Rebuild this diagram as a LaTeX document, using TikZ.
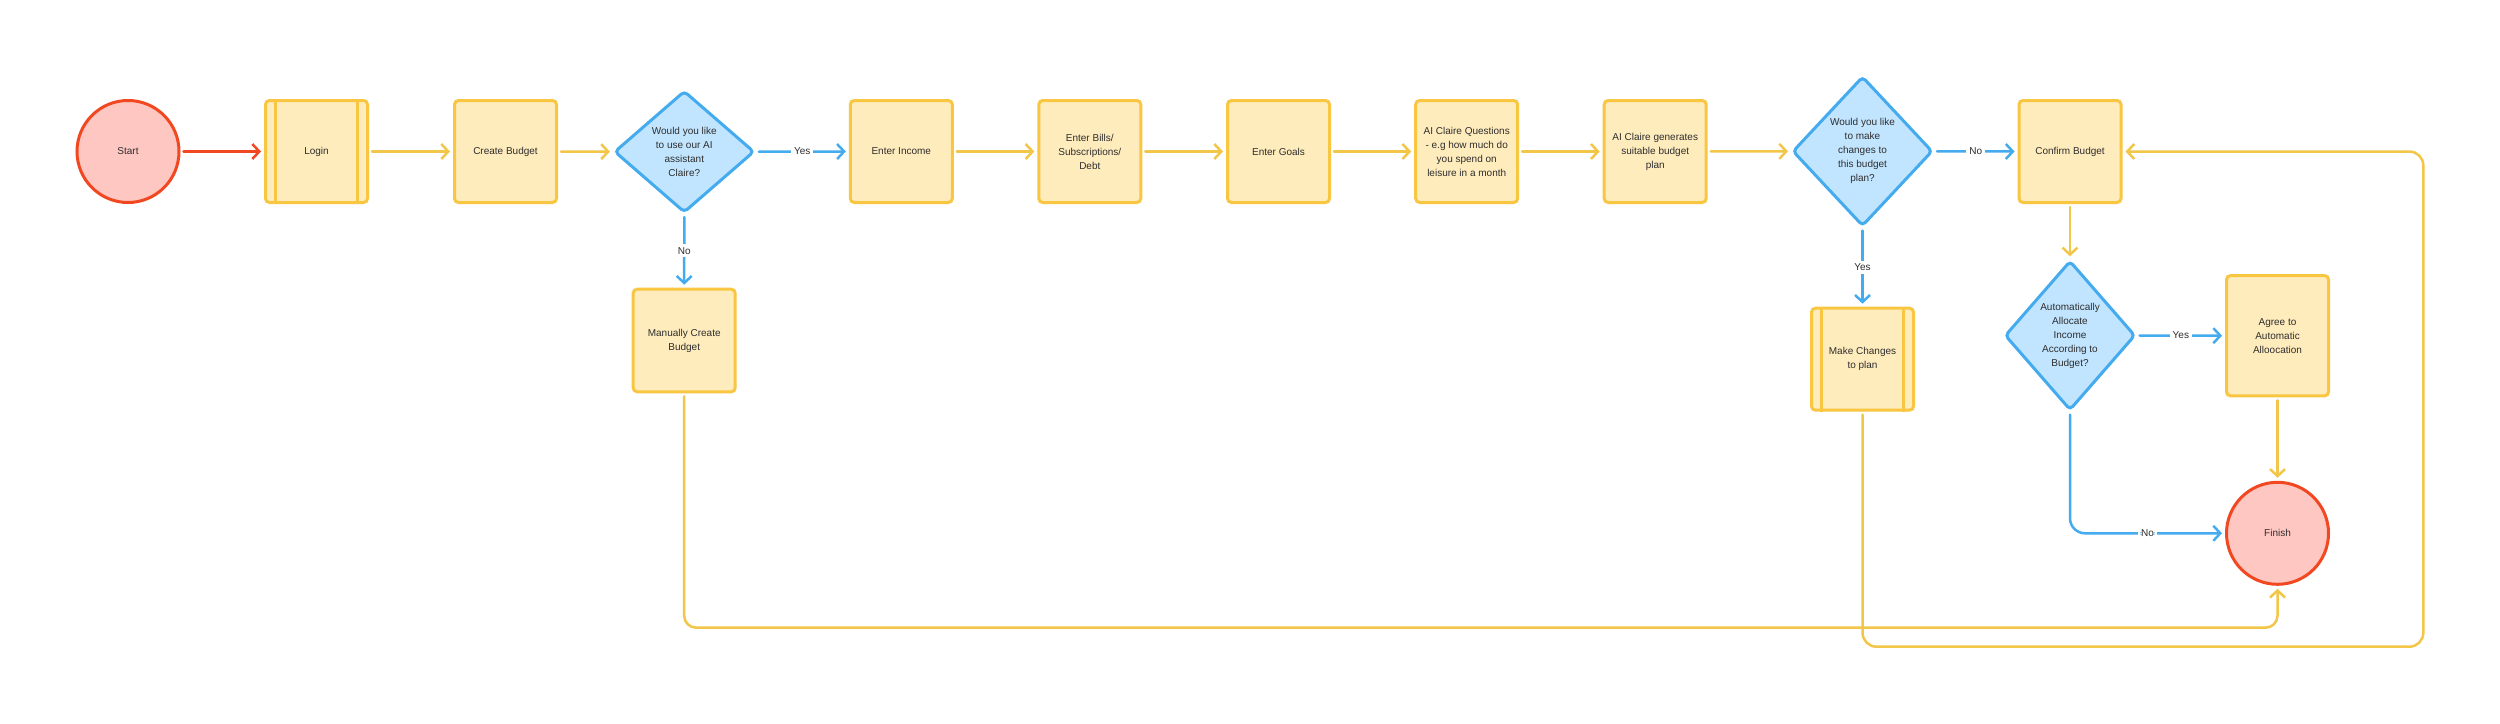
\documentclass[tikz,border=0pt]{standalone}
\usepackage{fontspec}
\setmainfont{Liberation Sans}
\usetikzlibrary{shapes.geometric, arrows.meta, calc}
\definecolor{ybox}{HTML}{FFECBD}
\definecolor{yline}{HTML}{F9C642}
\definecolor{yconncol}{HTML}{F2C648}
\definecolor{bfill}{HTML}{C2E5FF}
\definecolor{bline}{HTML}{45ABEF}
\definecolor{rfill}{HTML}{FFC7C2}
\definecolor{rline}{HTML}{F24822}
\definecolor{txt}{HTML}{2E2E2E}
\tikzset{
  every node/.style={font=\fontsize{10}{14}\selectfont, text=txt, align=center},
  procbox/.style={draw=yline, fill=ybox, line width=3pt, rounded corners=4pt,
    minimum width=102pt, minimum height=102pt, inner sep=0pt},
  decision/.style={shape=diamond, draw=bline, fill=bfill, line width=3pt,
    rounded corners=4pt, inner sep=0pt},
  terminal/.style={shape=circle, draw=rline, fill=rfill, line width=3pt,
    minimum size=102pt, inner sep=0pt},
  conn/.style={line width=2.5pt, line cap=round, line join=round,
    -{Straight Barb[length=7pt,width=15pt]}, shorten <=3pt, shorten >=3pt},
  yconn/.style={conn, draw=yconncol},
  bconn/.style={conn, draw=bline},
  rconn/.style={conn, draw=rline},
  edgelabel/.style={fill=white, inner sep=3pt},
}
\begin{document}
\begin{tikzpicture}[x=1pt,y=-1pt]
\fill[white] (0,0) rectangle (2500,723);
\useasboundingbox (0,0) rectangle (2500,723);

% nodes
\node[terminal] (start) at (128,151.5) {Start};
\node[procbox] (login) at (316.5,151.5) {Login};
\node[procbox] (create) at (505.5,151.5) {Create Budget};
\node[decision, minimum width=140pt, minimum height=121.7pt] (d1) at (684.3,151.7)
  {Would you like\\to use our AI\\assistant\\Claire?};
\node[procbox] (income) at (901.3,151.5) {Enter Income};
\node[procbox] (bills) at (1089.8,151.5) {Enter Bills/\\Subscriptions/\\Debt};
\node[procbox] (goals) at (1278.5,151.5) {Enter Goals};
\node[procbox] (questions) at (1466.7,151.5)
  {AI Claire Questions\\- e.g how much do\\you spend on\\leisure in a month};
\node[procbox] (generates) at (1655.2,151.5) {AI Claire generates\\suitable budget\\plan};
\node[decision, minimum width=140pt, minimum height=149.7pt] (d2) at (1862.5,151.3)
  {Would you like\\to make\\changes to\\this budget\\plan?};
\node[procbox] (confirm) at (2070,151.5) {Confirm Budget};
\node[decision, minimum width=130.4pt, minimum height=149.4pt] (d3) at (2070,335.5)
  {Automatically\\Allocate\\Income\\According to\\Budget?};
\node[procbox, minimum height=120.3pt] (agree) at (2277.5,335.7)
  {Agree to\\Automatic\\Alloocation};
\node[terminal] (finish) at (2277.5,533.3) {Finish};
\node[procbox, minimum height=102.6pt] (manual) at (684.2,340.5) {Manually Create\\Budget};
\node[procbox] (changes) at (1862.5,359.2) {Make Changes\\to plan};

% predefined-process side bars
\foreach \n in {login,changes}{
  \draw[yline, line width=3pt] ([xshift=11.5pt]\n.north west) -- ([xshift=11.5pt]\n.south west);
  \draw[yline, line width=3pt] ([xshift=-11.5pt]\n.north east) -- ([xshift=-11.5pt]\n.south east);
}

\coordinate (loopA) at (0,627.7);
\coordinate (loopB) at (2423.3,646.7);

% connectors
\draw[rconn] (start) -- (login);
\draw[yconn] (login) -- (create);
\draw[yconn] (create) -- (d1);
\draw[bconn] (d1.east) -- node[edgelabel] (l1) {Yes} (income.west);
\draw[bconn] (d1.south) -- node[edgelabel] (l2) {No} (manual.north);
\draw[yconn] (income) -- (bills);
\draw[yconn] (bills) -- (goals);
\draw[yconn] (goals) -- (questions);
\draw[yconn] (questions) -- (generates);
\draw[yconn] (generates) -- (d2.west);
\draw[bconn] (d2.east) -- node[edgelabel] (l3) {No} (confirm.west);
\draw[bconn] (d2.south) -- node[edgelabel] (l4) {Yes} (changes.north);
\draw[yconn] (confirm) -- (d3.north);
\draw[bconn] (d3.east) -- node[edgelabel] (l5) {Yes} (agree.west);
\draw[bconn, rounded corners=15pt] (d3.south) |- node[edgelabel, pos=0.75] (l6) {No} (finish.west);
\draw[yconn] (agree) -- (finish);
\draw[yconn, rounded corners=12pt] (manual.south) -- (manual.south |- loopA)
  -- (finish.south |- loopA) -- (finish.south);
\draw[yconn, rounded corners=14pt] (changes.south) -- (changes.south |- loopB)
  -- (loopB) -- (loopB |- confirm.east) -- (confirm.east);
\end{tikzpicture}
\end{document}
